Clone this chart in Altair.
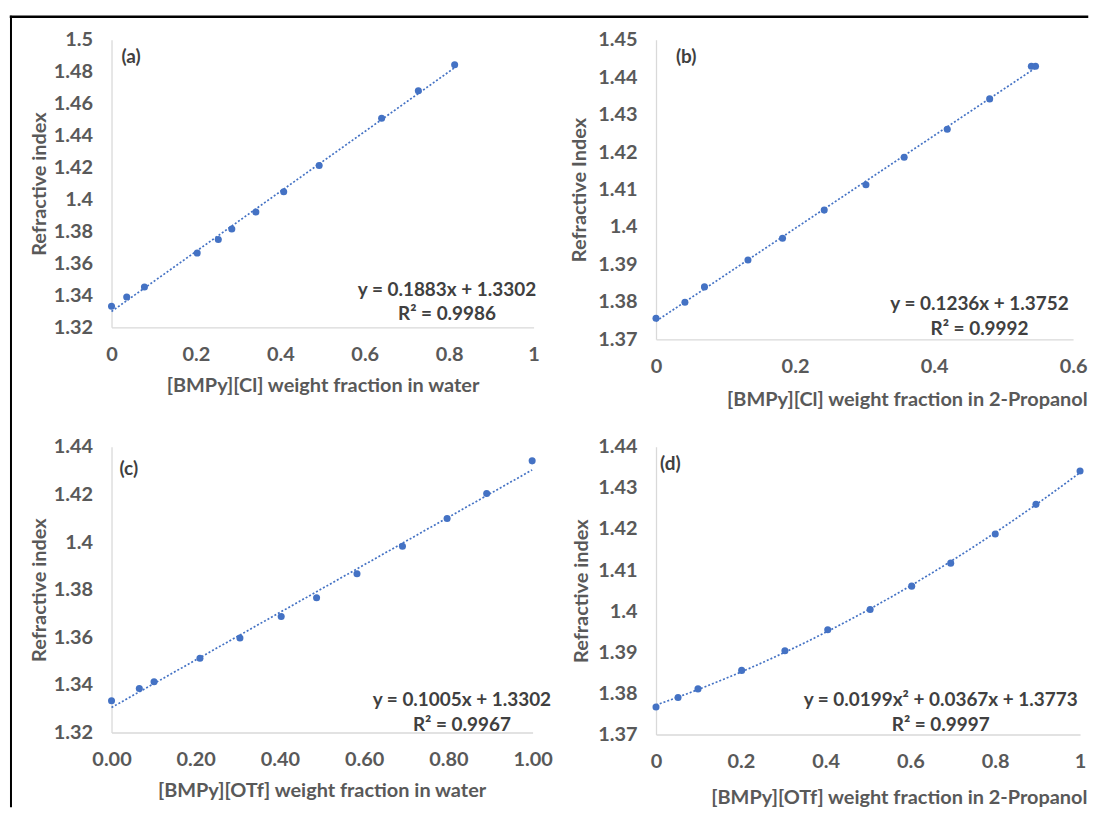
import altair as alt
import pandas as pd

# ---------------- data ----------------
a_x = [0.0, 0.036, 0.078, 0.203, 0.253, 0.285, 0.342, 0.408, 0.492, 0.640, 0.727, 0.813]
a_y = [1.3332, 1.3390, 1.3453, 1.3665, 1.3750, 1.3815, 1.3922, 1.4048, 1.4213, 1.4508, 1.4680, 1.4843]

b_x = [0.0, 0.0416, 0.0697, 0.1323, 0.182, 0.242, 0.302, 0.357, 0.419, 0.480, 0.540, 0.546]
b_y = [1.3756, 1.3799, 1.3840, 1.3912, 1.3970, 1.4045, 1.4113, 1.4186, 1.4261, 1.4342, 1.4429, 1.4429]

c_x = [0.0, 0.066, 0.101, 0.210, 0.305, 0.403, 0.487, 0.583, 0.691, 0.797, 0.891, 0.999]
c_y = [1.3333, 1.3385, 1.3413, 1.3512, 1.3597, 1.3687, 1.3766, 1.3867, 1.3982, 1.4099, 1.4204, 1.4341]

d_x = [0.0, 0.052, 0.099, 0.202, 0.304, 0.405, 0.505, 0.603, 0.695, 0.800, 0.896, 1.0]
d_y = [1.3767, 1.3790, 1.3811, 1.3856, 1.3904, 1.3955, 1.4004, 1.4061, 1.4117, 1.4188, 1.4260, 1.4341]

a_yticks = [1.32, 1.34, 1.36, 1.38, 1.40, 1.42, 1.44, 1.46, 1.48, 1.50]
b_yticks = [1.37, 1.38, 1.39, 1.40, 1.41, 1.42, 1.43, 1.44, 1.45]
c_yticks = [1.32, 1.34, 1.36, 1.38, 1.40, 1.42, 1.44]
d_yticks = [1.37, 1.38, 1.39, 1.40, 1.41, 1.42, 1.43, 1.44]
x_ticks_1 = [0.0, 0.2, 0.4, 0.6, 0.8, 1.0]
x_ticks_06 = [0.0, 0.2, 0.4, 0.6]

a_eq = ["y = 0.1883x + 1.3302", "R² = 0.9986"]
b_eq = ["y = 0.1236x + 1.3752", "R² = 0.9992"]
c_eq = ["y = 0.1005x + 1.3302", "R² = 0.9967"]
d_eq = ["y = 0.0199x² + 0.0367x + 1.3773", "R² = 0.9997"]

labels = ["(a)", "(b)", "(c)", "(d)"]
y_titles = ["Refractive index", "Refractive Index", "Refractive index", "Refractive index"]
x_titles = ["[BMPy][Cl] weight fraction in water",
            "[BMPy][Cl] weight fraction in 2-Propanol",
            "[BMPy][OTf] weight fraction in water",
            "[BMPy][OTf] weight fraction in 2-Propanol"]

# ---------------- style ----------------
BLUE = "#4472C4"
FONT = "Lato"
FS_LAB = 20
FS_TITLE = 20
FS_TXT = 19
TXT = "#404040"


def panel(xs, ys, xdom, xticks, xfmt, ydom, yticks, yfmt, w, h,
          ytitle, xtitle, xtitle_x, xtitle_y, ytitle_x,
          label, label_x, label_y, eq, eq_x, eq_dy1, eq_dy2,
          method="linear", order=None, extra=None):
    df = pd.DataFrame({"x": xs, "y": ys})
    xscale = alt.Scale(domain=xdom, nice=False, zero=False)
    yscale = alt.Scale(domain=ydom, nice=False, zero=False)
    xaxis = alt.Axis(values=xticks, format=xfmt, title=xtitle, labelFlush=False,
                     labelBaseline="middle", labelPadding=27,
                     titleX=xtitle_x, titleY=xtitle_y, titleBaseline="middle")
    yaxis = alt.Axis(values=yticks, format=yfmt, title=ytitle, labelPadding=19,
                     titleX=ytitle_x, titleY=h / 2, titleBaseline="middle")
    enc = dict(x=alt.X("x:Q", scale=xscale, axis=xaxis),
               y=alt.Y("y:Q", scale=yscale, axis=yaxis))

    if method == "poly":
        reg = alt.Chart(df).transform_regression("x", "y", method="poly", order=order)
    else:
        reg = alt.Chart(df).transform_regression("x", "y", method="linear")
    line = reg.mark_line(color=BLUE, strokeDash=[2, 2], strokeWidth=1.7).encode(**enc)
    pts = alt.Chart(df).mark_circle(size=50, color=BLUE, opacity=1).encode(**enc)

    lab = alt.Chart(pd.DataFrame({"t": [label]})).mark_text(
        font=FONT, fontSize=FS_TXT, fontWeight="bold", color=TXT, align="left", baseline="middle"
    ).encode(text="t:N", x=alt.value(label_x), y=alt.value(label_y))

    eq1 = alt.Chart(pd.DataFrame({"t": [eq[0]]})).mark_text(
        font=FONT, fontSize=FS_TXT, fontWeight="bold", color=TXT, align="center", baseline="middle"
    ).encode(text="t:N", x=alt.value(eq_x), y=alt.value(h + eq_dy1))
    eq2 = alt.Chart(pd.DataFrame({"t": [eq[1]]})).mark_text(
        font=FONT, fontSize=FS_TXT, fontWeight="bold", color=TXT, align="center", baseline="middle"
    ).encode(text="t:N", x=alt.value(eq_x), y=alt.value(h + eq_dy2))

    layers = [line, pts, lab, eq1, eq2]
    if extra:
        layers = extra + layers
    return alt.layer(*layers).properties(width=w, height=h)


# outer black frame (drawn from panel (a), unclipped)
frame_df = pd.DataFrame({"k": [0]})
frame_top = alt.Chart(frame_df).mark_rule(color="black", strokeWidth=2.5, strokeCap="square").encode(
    x=alt.value(-101), x2=alt.value(980), y=alt.value(-23))
frame_left = alt.Chart(frame_df).mark_rule(color="black", strokeWidth=2, strokeCap="square").encode(
    x=alt.value(-101), y=alt.value(-23), y2=alt.value(770))

pa = panel(a_x, a_y, [0, 1], x_ticks_1, ".1~f", [1.32, 1.50], a_yticks, ".2~f", 424, 289,
           y_titles[0], x_titles[0], 212, 58, -72,
           labels[0], 10, 17, a_eq, 337, -38, -13,
           extra=[frame_top, frame_left])
pb = panel(b_x, b_y, [0, 0.6], x_ticks_06, ".1~f", [1.37, 1.45], b_yticks, ".2~f", 419, 301,
           y_titles[1], x_titles[1], 252, 60, -77,
           labels[1], 20, 17, b_eq, 325, -35, -10)
pc = panel(c_x, c_y, [0, 1], x_ticks_1, ".2f", [1.32, 1.44], c_yticks, ".2~f", 423, 287,
           y_titles[2], x_titles[2], 211, 58, -72,
           labels[2], 8, 22, c_eq, 352, -33, -8)
pd_ = panel(d_x, d_y, [0, 1], x_ticks_1, ".1~f", [1.37, 1.44], d_yticks, ".2~f", 426, 289,
            y_titles[3], x_titles[3], 244, 63, -75,
            labels[3], 4, 17, d_eq, 286, -35, -10,
            method="poly", order=2)

chart = alt.concat(pa, pb, pc, pd_, columns=2, spacing={"row": 108, "column": 123},
                   bounds="flush").properties(
    padding={"left": 0, "top": 4, "right": 0, "bottom": 0},
    background="white",
).configure_view(stroke="transparent").configure_axis(
    domainColor="#D9D9D9", domainWidth=1.3, ticks=False, tickSize=0, grid=False,
    labelFont=FONT, labelFontSize=FS_LAB, labelFontWeight="bold", labelColor="#595959",
    titleFont=FONT, titleFontSize=FS_TITLE, titleFontWeight="bold", titleColor="#595959",
)

chart.save("out.html", embed_options={"renderer": "svg", "actions": False})
